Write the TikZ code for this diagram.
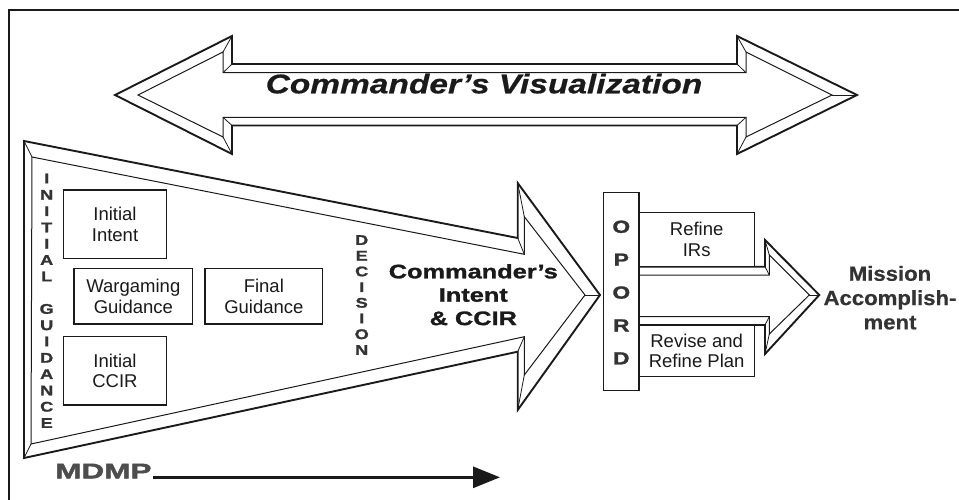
\documentclass[tikz,border=0pt]{standalone}
\usepackage{fontspec}
\setmainfont{Liberation Sans}
\newfontfamily\titlefont[FakeStretch=1.24, FakeBold=0.6]{Liberation Sans}
\newfontfamily\widefont[FakeStretch=1.3, FakeBold=1.4]{Liberation Sans}
\newfontfamily\xwidefont[FakeStretch=1.5, FakeBold=2.5]{Liberation Sans}
\newfontfamily\midfont[FakeStretch=1.08, FakeBold=0.6]{Liberation Sans}
\usetikzlibrary{arrows.meta}
\definecolor{ink}{HTML}{1A1A1A}
\definecolor{darktext}{HTML}{333333}
\definecolor{mdmpgray}{HTML}{4D4D4D}
\begin{document}
\begin{tikzpicture}[x=1pt,y=-1pt,
  outerline/.style={draw=ink, line width=1.9pt, line join=miter},
  innerline/.style={draw=ink, line width=1pt, line join=miter},
  bevel/.style={draw=ink, line width=0.8pt},
  box/.style={draw=ink, fill=white, line width=1.3pt, inner sep=0pt, align=center,
    font=\fontsize{18.5}{20.5}\selectfont, text=ink},
  stack/.style={inner sep=0pt, align=center, text=darktext},
]
\useasboundingbox (0,0) rectangle (959,499);

% outer frame (only top and left edges fall on the page)
\draw[ink, line width=2pt] (9,510) -- (9,10) -- (970,10);

% ---- double-headed bevelled arrow: Commander's Visualization ----
\coordinate (dvo1) at (115,95);
\coordinate (dvo2) at (232,36);
\coordinate (dvo3) at (232,64);
\coordinate (dvo4) at (737,64);
\coordinate (dvo5) at (737,36);
\coordinate (dvo6) at (857,95);
\coordinate (dvo7) at (737,154);
\coordinate (dvo8) at (737,125.5);
\coordinate (dvo9) at (232,125.5);
\coordinate (dvo10) at (232,154);
\coordinate (dvi1) at (138,95);
\coordinate (dvi2) at (223,52);
\coordinate (dvi3) at (223,72.7);
\coordinate (dvi4) at (746,72.7);
\coordinate (dvi5) at (746,52);
\coordinate (dvi6) at (832,95);
\coordinate (dvi7) at (746,137);
\coordinate (dvi8) at (746,117.3);
\coordinate (dvi9) at (223,117.3);
\coordinate (dvi10) at (223,137);
\draw[outerline] (dvo1) -- (dvo2) -- (dvo3) -- (dvo4) -- (dvo5) -- (dvo6) -- (dvo7) -- (dvo8) -- (dvo9) -- (dvo10) -- cycle;
\draw[innerline] (dvi1) -- (dvi2) -- (dvi3) -- (dvi4) -- (dvi5) -- (dvi6) -- (dvi7) -- (dvi8) -- (dvi9) -- (dvi10) -- cycle;
\foreach \k in {2,...,10} \draw[bevel] (dvo\k) -- (dvi\k);
\node[anchor=base, inner sep=0pt, text=ink,
  font=\titlefont\bfseries\itshape\fontsize{27}{30}\selectfont] (vis) at (484,93.3)
  {Commander’s Visualization};

% ---- large MDMP arrow ----
\coordinate (bao1) at (24,141);
\coordinate (bao2) at (517.7,238);
\coordinate (bao3) at (517.7,183);
\coordinate (bao4) at (600,295);
\coordinate (bao5) at (517.7,410);
\coordinate (bao6) at (517.7,351.7);
\coordinate (bao7) at (24,458);
\coordinate (bai1) at (32,157);
\coordinate (bai2) at (524.3,254.3);
\coordinate (bai3) at (524.3,216.7);
\coordinate (bai4) at (585,295);
\coordinate (bai5) at (524.3,375);
\coordinate (bai6) at (524.3,336.7);
\coordinate (bai7) at (31,444);
\draw[outerline] (bao1) -- (bao2) -- (bao3) -- (bao4) -- (bao5) -- (bao6) -- (bao7) -- cycle;
\draw[innerline] (bai1) -- (bai2) -- (bai3) -- (bai4) -- (bai5) -- (bai6) -- (bai7) -- cycle;
\foreach \k in {1,...,7} \draw[bevel] (bao\k) -- (bai\k);

\node[stack, font=\widefont\bfseries\fontsize{14}{16.3}\selectfont] (initg) at (46.7,300.8)
  {I\\N\\I\\T\\I\\A\\L\\[16.3pt]G\\U\\I\\D\\A\\N\\C\\E};
\node[box, minimum width=103.4pt, minimum height=68.3pt] (iintent) at (115,224.2) {Initial\\Intent};
\node[box, minimum width=118.7pt, minimum height=55.7pt] (wguide) at (133.35,296.15) {Wargaming\\Guidance};
\node[box, minimum width=117.7pt, minimum height=55.7pt] (fguide) at (263.85,296.15) {Final\\Guidance};
\node[box, minimum width=103.4pt, minimum height=68.3pt] (iccir) at (115,370.85) {Initial\\CCIR};
\node[stack, font=\widefont\bfseries\fontsize{14}{15.7}\selectfont] (decision) at (361.7,295)
  {D\\E\\C\\I\\S\\I\\O\\N};
\node[stack, text=ink, font=\widefont\bfseries\fontsize{19.5}{23.4}\selectfont] (cintent) at (473.3,294.7)
  {Commander’s\\Intent\\\& CCIR};

% ---- execution arrow towards mission accomplishment ----
\coordinate (mao1) at (639,266.7);
\coordinate (mao2) at (765,266.7);
\coordinate (mao3) at (765,240);
\coordinate (mao4) at (819.3,295);
\coordinate (mao5) at (765,354);
\coordinate (mao6) at (765,325);
\coordinate (mao7) at (639,325);
\coordinate (mai1) at (639,275);
\coordinate (mai2) at (769.3,275);
\coordinate (mai3) at (769.3,255);
\coordinate (mai4) at (809.3,295);
\coordinate (mai5) at (769.3,334);
\coordinate (mai6) at (769.3,316.7);
\coordinate (mai7) at (639,316.7);
\draw[outerline] (mao1) -- (mao2) -- (mao3) -- (mao4) -- (mao5) -- (mao6) -- (mao7);
\draw[innerline] (mai1) -- (mai2) -- (mai3) -- (mai4) -- (mai5) -- (mai6) -- (mai7);
\foreach \k in {2,...,6} \draw[bevel] (mao\k) -- (mai\k);

\node[box, minimum width=35.5pt, minimum height=198pt] (opordbox) at (621.25,291.7) {};
\node[stack, font=\widefont\bfseries\fontsize{17.5}{32.9}\selectfont] (opord) at (621.3,292.5)
  {O\\P\\O\\R\\D};
\node[box, minimum width=115.3pt, minimum height=54.4pt] (refine) at (696.65,239.5) {Refine\\IRs};
\node[box, minimum width=115.3pt, minimum height=51.7pt] (revise) at (696.65,350.85) {Revise and\\Refine Plan};
\node[stack, text=darktext, font=\midfont\bfseries\fontsize{20.5}{24.3}\selectfont] (mission) at (890,297.7)
  {Mission\\Accomplish-\\ment};

% ---- MDMP timeline ----
\node[anchor=base west, inner sep=0pt, text=mdmpgray,
  font=\xwidefont\bfseries\fontsize{21}{24}\selectfont] (mdmp) at (55,478.3) {MDMP};
\coordinate (mdmpend) at (500,477.3);
\draw[ink, line width=3pt, -{Triangle[length=27pt,width=21pt]}]
  ([xshift=1pt,yshift=1pt]mdmp.base east) -- (mdmpend);
\end{tikzpicture}
\end{document}
